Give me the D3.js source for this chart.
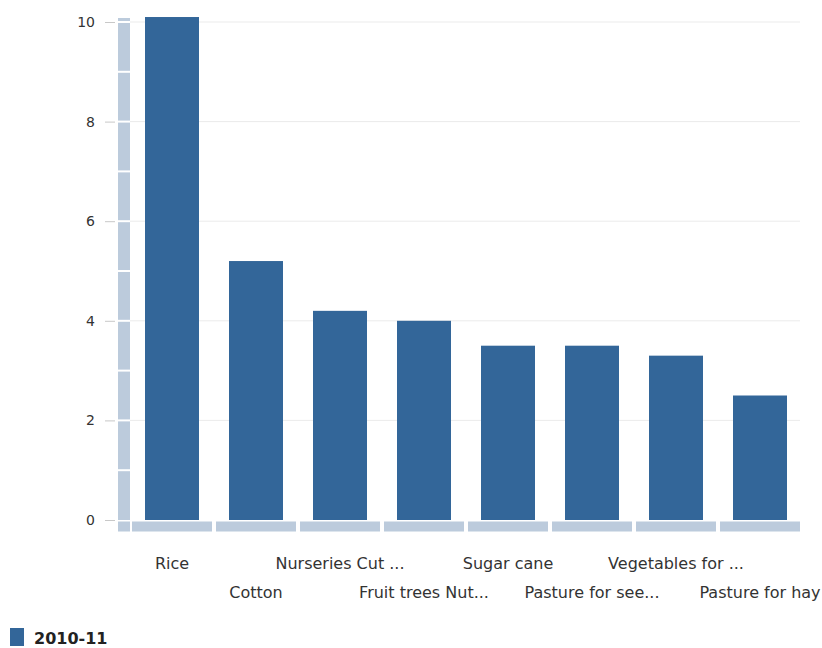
<!DOCTYPE html>
<html><head><meta charset="utf-8">
<script src="https://cdn.jsdelivr.net/npm/d3@7"></script>
<style>body{margin:0;background:#fff;}svg{display:block;font-family:"DejaVu Sans",Verdana,sans-serif;}</style>
</head><body>
<svg id="c" width="822" height="648"></svg>
<script>
const categories = ["Rice","Cotton","Nurseries Cut ...","Fruit trees Nut...","Sugar cane","Pasture for see...","Vegetables for ...","Pasture for hay"];
const values = [10.1,5.2,4.2,4.0,3.5,3.5,3.3,2.5];
const yTicks = [0,2,4,6,8,10];
const seriesName = "2010-11";

const svg = d3.select("#c");
const barColor = "#336699", bandColor = "#bccbdc";
const x = d3.scaleBand().domain(categories).range([130,802]).paddingInner(0).paddingOuter(0);
const y = d3.scaleLinear().domain([0,10]).range([520,22]);

// gridlines
svg.append("g").selectAll("line").data(yTicks.filter(d=>d>0)).join("line")
  .attr("x1",130).attr("x2",800).attr("y1",d=>y(d)).attr("y2",d=>y(d))
  .attr("stroke","#ebebeb").attr("stroke-width",1);

// y axis ticks and labels
const yAxis = d3.axisLeft(y).tickValues(yTicks).tickSize(10).tickPadding(10).tickFormat(d3.format("d"));
const ga = svg.append("g").attr("transform","translate(115,0)").call(yAxis);
ga.select(".domain").remove();
ga.selectAll(".tick line").attr("stroke","#c8c8c8");
ga.selectAll(".tick text").attr("fill","#333").style("font-size","14px").style("font-family","DejaVu Sans, Verdana, sans-serif");

// y band with separators
svg.append("rect").attr("x",118).attr("y",y(10.08)).attr("width",12).attr("height",y(0)-y(10.08)).attr("fill",bandColor);
svg.append("g").selectAll("line").data(d3.range(1,11)).join("line")
  .attr("x1",118).attr("x2",130).attr("y1",d=>y(d)).attr("y2",d=>y(d))
  .attr("stroke","#fff").attr("stroke-width",2);
// corner square
svg.append("rect").attr("x",118).attr("y",y(0)+1.5).attr("width",12).attr("height",10).attr("fill",bandColor);
// x band segments
svg.append("g").selectAll("rect").data(categories).join("rect")
  .attr("x",d=>x(d)+2).attr("y",y(0)+1.5).attr("width",x.bandwidth()-4).attr("height",10).attr("fill",bandColor);

// bars
const bw = 54;
svg.append("g").selectAll("rect").data(values).join("rect")
  .attr("x",(d,i)=>x(categories[i])+x.bandwidth()/2-bw/2)
  .attr("y",d=>y(d)).attr("width",bw).attr("height",d=>y(0)-y(d))
  .attr("fill",barColor);

// x labels staggered
svg.append("g").selectAll("text").data(categories).join("text")
  .attr("x",d=>x(d)+x.bandwidth()/2)
  .attr("y",(d,i)=> i%2===0 ? 569 : 598)
  .attr("text-anchor","middle").attr("fill","#333").style("font-size","16px")
  .text(d=>d);

// legend
svg.append("rect").attr("x",10).attr("y",628).attr("width",14).attr("height",18).attr("fill",barColor);
svg.append("text").attr("x",34).attr("y",644).attr("fill","#222").style("font-size","16px").style("font-weight","bold").text(seriesName);
</script>
</body></html>
